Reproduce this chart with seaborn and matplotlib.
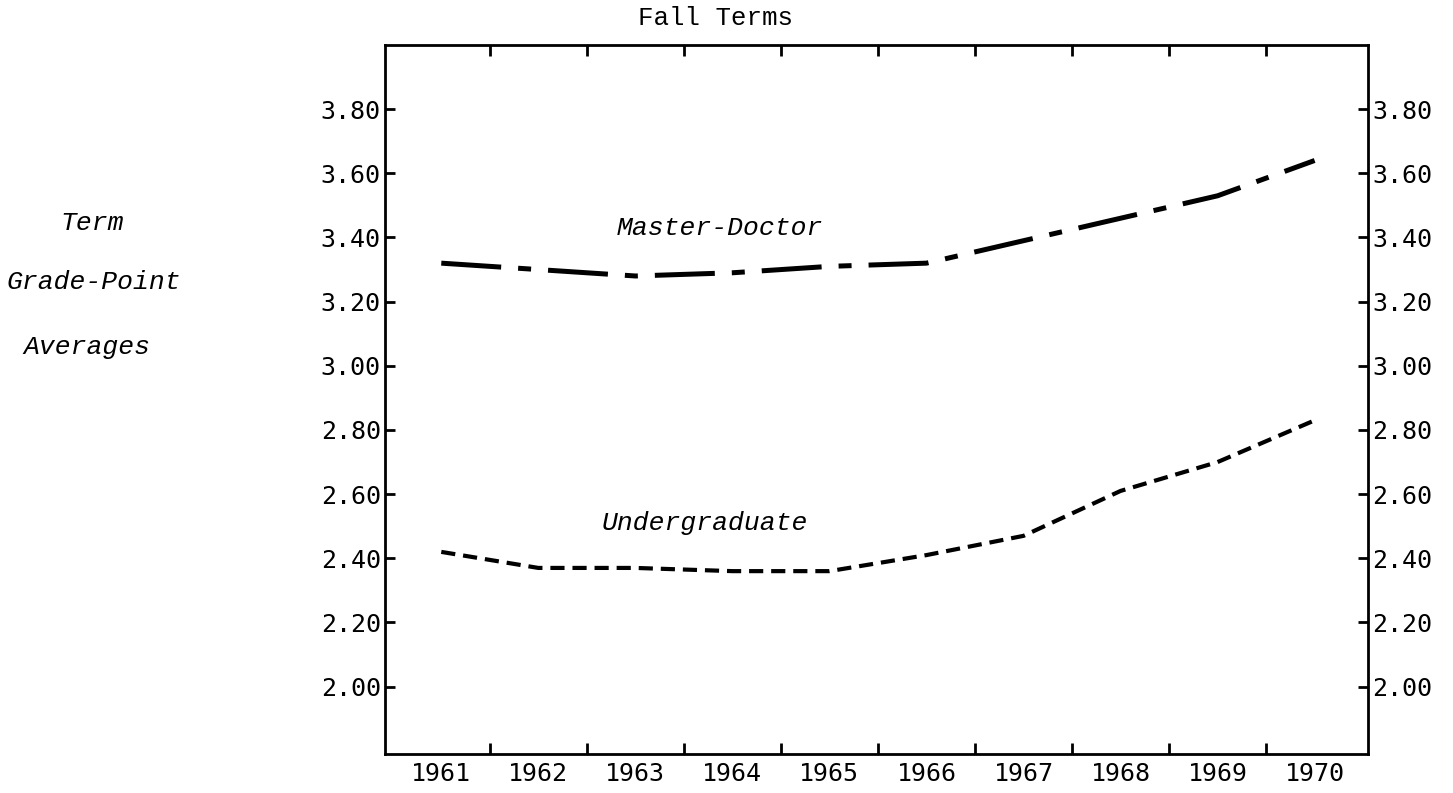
import matplotlib
matplotlib.use("Agg")
import matplotlib.pyplot as plt
import seaborn as sns
import pandas as pd
from matplotlib.ticker import FixedLocator, FixedFormatter

# fall term grade-point averages
years = [1961, 1962, 1963, 1964, 1965, 1966, 1967, 1968, 1969, 1970]
master_doctor = [3.32, 3.30, 3.28, 3.29, 3.31, 3.32, 3.39, 3.46, 3.53, 3.64]
undergraduate = [2.42, 2.37, 2.37, 2.36, 2.36, 2.41, 2.47, 2.61, 2.70, 2.83]
y_ticks = [2.00, 2.20, 2.40, 2.60, 2.80, 3.00, 3.20, 3.40, 3.60, 3.80]

df = pd.DataFrame({"year": years, "Master-Doctor": master_doctor,
                   "Undergraduate": undergraduate})

sns.set_style("white")
plt.rcParams["font.family"] = ["DejaVu Sans Mono", "DejaVu Sans"]
plt.rcParams["text.color"] = "black"
plt.rcParams["xtick.color"] = "black"
plt.rcParams["ytick.color"] = "black"

fig = plt.figure(figsize=(14.53, 7.93), dpi=100)
ax = fig.add_axes([385 / 1453, 1 - 754 / 793, (1368 - 385) / 1453, (754 - 45) / 793])

# master-doctor: long dash / short dash
sns.lineplot(data=df, x="year", y="Master-Doctor", ax=ax, color="black",
             linewidth=3.6, linestyle=(0, (12, 3.4, 2.6, 3.4)))
# undergraduate: short dashes
sns.lineplot(data=df, x="year", y="Undergraduate", ax=ax, color="black",
             linewidth=3.0, linestyle=(0, (3.4, 1.9)))

ax.set_xlim(1960.42, 1970.55)
ax.set_ylim(1.79, 4.00)
ax.set_xlabel("")
ax.set_ylabel("")

for s in ax.spines.values():
    s.set_linewidth(2)
    s.set_color("black")

# year labels without marks, tick marks half way between years
ax.xaxis.set_major_locator(FixedLocator(years))
ax.xaxis.set_major_formatter(FixedFormatter([str(y) for y in years]))
ax.xaxis.set_minor_locator(FixedLocator([y + 0.5 for y in years[:-1]]))
ax.tick_params(axis="x", which="major", length=0, pad=6, labelsize=18,
               labelcolor="black")
ax.tick_params(axis="x", which="minor", direction="in", length=8, width=2,
               top=True, bottom=True)

ax.yaxis.set_major_locator(FixedLocator(y_ticks))
ax.yaxis.set_major_formatter(FixedFormatter([f"{v:.2f}" for v in y_ticks]))
ax.tick_params(axis="y", which="major", direction="in", length=7, width=2,
               left=True, right=True, labelleft=True, labelright=True,
               labelsize=18, pad=3, labelcolor="black")

ax.text(1963.87, 3.43, "Master-Doctor", ha="center", va="center",
        fontsize=19, style="italic", family="Liberation Mono")
ax.text(1963.72, 2.51, "Undergraduate", ha="center", va="center",
        fontsize=19, style="italic", family="Liberation Mono")

fig.text(715 / 1453, 1 - 18 / 793, "Fall Terms", ha="center", va="center",
         fontsize=18.5, family="Liberation Mono")
for txt, xp, yp in [("Term", 92, 223), ("Grade-Point", 94, 282), ("Averages", 87, 347)]:
    fig.text(xp / 1453, 1 - yp / 793, txt, ha="center", va="center",
             fontsize=19, style="italic", family="Liberation Mono")

fig.savefig("out.png", dpi=100, facecolor="white")
